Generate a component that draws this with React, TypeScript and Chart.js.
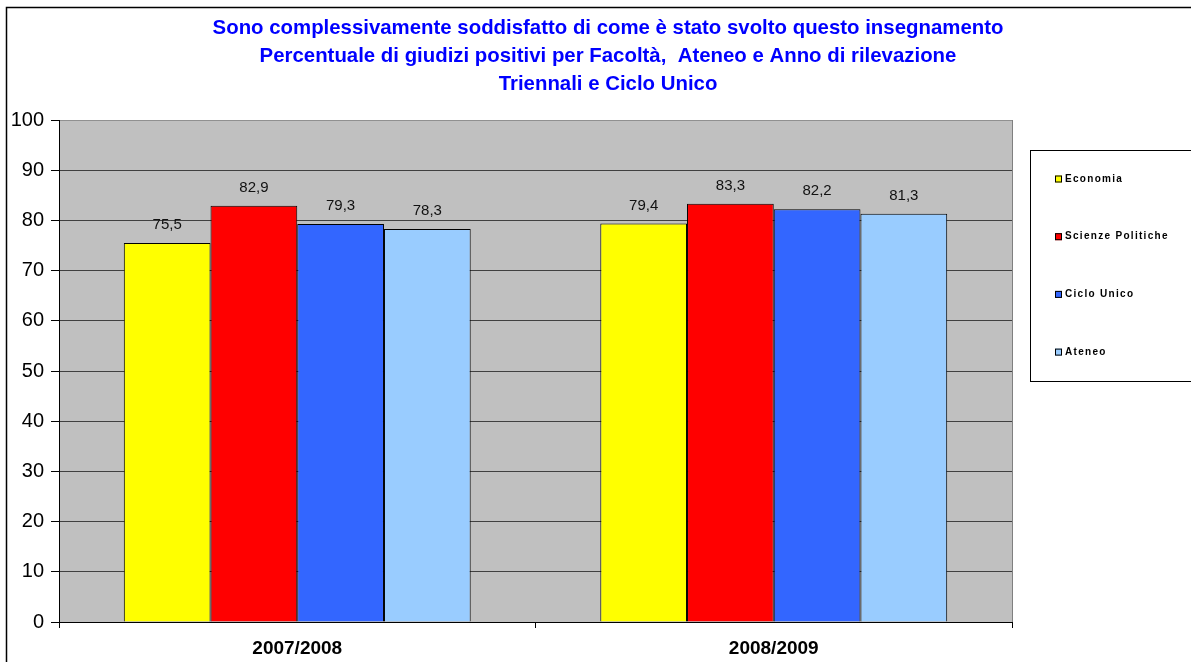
import React, { useEffect, useRef } from "react";
import { Chart, registerables } from "chart.js";

Chart.register(...registerables);

const titleLines = [
  "Sono complessivamente soddisfatto di come è stato svolto questo insegnamento",
  "Percentuale di giudizi positivi per Facoltà,  Ateneo e Anno di rilevazione",
  "Triennali e Ciclo Unico",
];
const categories = ["2007/2008", "2008/2009"];
const seriesNames = ["Economia", "Scienze Politiche", "Ciclo Unico", "Ateneo"];
const economia = [75.5, 79.4];
const scienzePolitiche = [82.9, 83.3];
const cicloUnico = [79.3, 82.2];
const ateneo = [78.3, 81.3];
const seriesColors = ["#FFFF00", "#FF0000", "#3366FF", "#99CCFF"];
const yTicks = [0, 10, 20, 30, 40, 50, 60, 70, 80, 90, 100];

const FONT = "'Liberation Sans', Arial, sans-serif";

const decorPlugin = {
  id: "decor",
  beforeDraw(chart: any) {
    const { ctx, chartArea } = chart;
    ctx.save();
    ctx.fillStyle = "#FFFFFF";
    ctx.fillRect(0, 0, chart.width, chart.height);
    // outer border
    ctx.strokeStyle = "#000000";
    ctx.lineWidth = 1.5;
    ctx.strokeRect(6.5, 7.5, chart.width + 20, chart.height + 20);
    // plot background
    ctx.fillStyle = "#C0C0C0";
    ctx.fillRect(chartArea.left, chartArea.top, chartArea.right - chartArea.left, chartArea.bottom - chartArea.top);
    // right border of plot
    ctx.strokeStyle = "#808080";
    ctx.lineWidth = 1;
    ctx.beginPath();
    ctx.moveTo(chartArea.right + 0.5, chartArea.top);
    ctx.lineTo(chartArea.right + 0.5, chartArea.bottom);
    ctx.stroke();
    // title
    ctx.fillStyle = "#0000FF";
    ctx.font = `bold 20.4px ${FONT}`;
    ctx.textAlign = "center";
    ctx.textBaseline = "middle";
    titleLines.forEach((line, i) => ctx.fillText(line, 608, 28 + i * 28));
    // legend box
    ctx.strokeStyle = "#000000";
    ctx.lineWidth = 1;
    ctx.strokeRect(1030.5, 150.5, 200, 231);
    ctx.font = `bold 10px ${FONT}`;
    (ctx as any).letterSpacing = "1.3px";
    ctx.textAlign = "left";
    seriesNames.forEach((name, i) => {
      const y = 179 + i * 57.7;
      ctx.fillStyle = seriesColors[i];
      ctx.fillRect(1055, y - 3.5, 7, 7);
      ctx.strokeStyle = "#000";
      ctx.strokeRect(1055.5, y - 3, 6, 6);
      ctx.fillStyle = "#000";
      ctx.fillText(name, 1065, y);
    });
    (ctx as any).letterSpacing = "0px";
    ctx.restore();
  },
  afterDatasetsDraw(chart: any) {
    const { ctx } = chart;
    ctx.save();
    ctx.font = `15px ${FONT}`;
    ctx.fillStyle = "#111";
    ctx.textAlign = "center";
    ctx.textBaseline = "middle";
    chart.data.datasets.forEach((ds: any, di: number) => {
      const meta = chart.getDatasetMeta(di);
      meta.data.forEach((bar: any, i: number) => {
        const v = ds.data[i];
        ctx.fillText(String(v).replace(".", ","), bar.x, bar.y - 18);
      });
    });
    ctx.restore();
  },
};

export default function App() {
  const ref = useRef<HTMLCanvasElement>(null);
  useEffect(() => {
    if (!ref.current) return;
    const data = [economia, scienzePolitiche, cicloUnico, ateneo];
    const chart = new Chart(ref.current, {
      type: "bar",
      data: {
        labels: categories,
        datasets: seriesNames.map((n, i) => ({
          label: n,
          data: data[i],
          backgroundColor: seriesColors[i],
          borderColor: "#000000",
          borderWidth: 1,
          categoryPercentage: 0.728,
          barPercentage: 1.0,
        })),
      },
      options: {
        responsive: false,
        animation: false,
        devicePixelRatio: 1,
        layout: { padding: { left: 6, top: 120, right: 179, bottom: 0 } },
        plugins: { legend: { display: false }, title: { display: false }, tooltip: { enabled: false } },
        scales: {
          x: {
            grid: { offset: true, drawOnChartArea: false, tickLength: 6, color: "#000000" },
            border: { color: "#000000", width: 1 },
            ticks: { font: { family: FONT, size: 19, weight: "bold" }, color: "#000000", padding: 9 },
            afterFit: (s: any) => { s.height = 40; },
          },
          y: {
            min: 0,
            max: 100,
            afterBuildTicks: (s: any) => { s.ticks = yTicks.map((v) => ({ value: v })); },
            grid: {
              color: (c: any) => (c.tick && c.tick.value === 100 ? "#909090" : "#404040"),
              tickColor: "#000000",
              tickLength: 8,
            },
            border: { color: "#000000", width: 1 },
            ticks: { font: { family: FONT, size: 20 }, color: "#000000", padding: 7 },
            afterFit: (s: any) => { s.width = 53; },
          },
        },
      },
      plugins: [decorPlugin],
    });
    return () => chart.destroy();
  }, []);
  return (
    <canvas
      ref={ref}
      width={1191}
      height={662}
      style={{ position: "absolute", left: 0, top: 0, width: 1191, height: 662, display: "block" }}
    />
  );
}
